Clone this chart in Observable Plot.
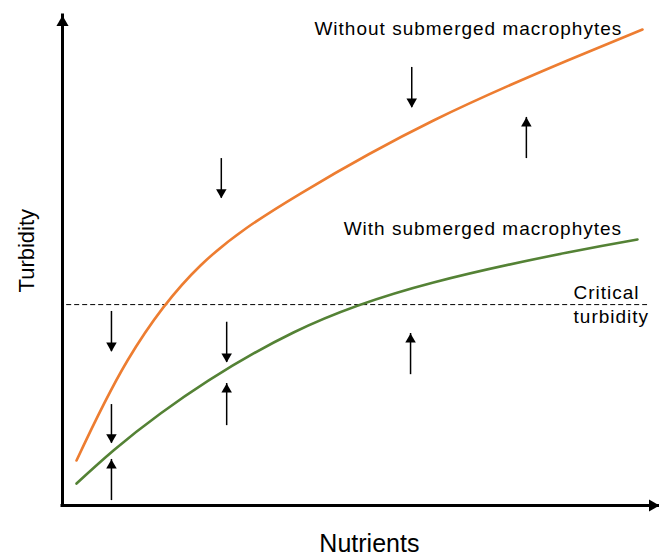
<!DOCTYPE html>
<html><head><meta charset="utf-8">
<script src="https://cdn.jsdelivr.net/npm/d3@7"></script>
<script src="https://cdn.jsdelivr.net/npm/@observablehq/plot@0.6"></script>
<style>
body{margin:0;background:#fff;}
svg{font-family:"Liberation Sans",Arial,sans-serif;}
</style>
</head><body><div id="chart"></div>
<script>
// Curves (abstract units: nutrients 0-100, turbidity 0-100)
const withoutX = [2.35, 10.89, 23.12, 39.87, 62.14, 84.59, 97.15];
const withoutY = [9.18, 29.59, 48.98, 63.67, 78.57, 90.82, 97.14];
const withX = [2.35, 16.42, 38.69, 62.14, 84.59, 96.31];
const withY = [4.49, 18.78, 35.31, 45.51, 51.63, 54.29];
// Critical turbidity level
const criticalLevel = 41.0;
const criticalFrom = 0.7, criticalTo = 98.0;
// Arrows
const downX = [26.6, 58.5, 8.2, 27.5, 8.2];
const downFrom = [70.8, 89.4, 39.6, 37.4, 20.6];
const downTo = [62.7, 81.2, 31.4, 29.2, 12.7];
const upX = [77.7, 58.3, 27.5, 8.2];
const upFrom = [70.8, 26.7, 16.3, 1.0];
const upTo = [79.2, 35.1, 24.9, 9.4];
// Labels
const labels = ["Without submerged macrophytes", "With submerged macrophytes", "Critical", "turbidity"];
const labelX = [42.2, 47.1, 85.6, 85.6];
const labelY = [97.2, 56.4, 43.4, 38.4];
const xTitle = "Nutrients", yTitle = "Turbidity";
const xTitlePos = 51.4, yTitlePos = 52;
const axisMax = 100;

const tbl = (xs, ys) => xs.map((x, i) => ({x, y: ys[i]}));
const downs = downX.map((x, i) => ({x, y1: downFrom[i], y2: downTo[i]}));
const ups = upX.map((x, i) => ({x, y1: upFrom[i], y2: upTo[i]}));
const lab = labels.map((t, i) => ({t, x: labelX[i], y: labelY[i]}));

const chart = Plot.plot({
  width: 659, height: 557,
  marginLeft: 62, marginRight: 0, marginTop: 15, marginBottom: 52,
  x: {domain: [0, axisMax], axis: null},
  y: {domain: [0, axisMax], axis: null},
  marks: [
    Plot.ruleY([criticalLevel], {x1: criticalFrom, x2: criticalTo, stroke: "black", strokeWidth: 1, strokeDasharray: "5,3"}),
    Plot.line(tbl(withoutX, withoutY), {x: "x", y: "y", stroke: "#ED7D31", strokeWidth: 2.6, curve: "natural"}),
    Plot.line(tbl(withX, withY), {x: "x", y: "y", stroke: "#548235", strokeWidth: 2.6, curve: "natural"}),
    Plot.ruleX(downs, {x: "x", y1: "y1", y2: "y2", stroke: "black", strokeWidth: 1.5}),
    Plot.dot(downs, {x: "x", y: "y2", symbol: "triangle", r: 3.9, fill: "black", stroke: null, rotate: 180, dy: -6}),
    Plot.ruleX(ups, {x: "x", y1: "y1", y2: "y2", stroke: "black", strokeWidth: 1.5}),
    Plot.dot(ups, {x: "x", y: "y2", symbol: "triangle", r: 3.9, fill: "black", stroke: null, dy: 6}),
    // axes
    Plot.ruleX([0], {y1: 0, y2: axisMax, stroke: "black", strokeWidth: 3, strokeLinecap: "square"}),
    Plot.ruleY([0], {x1: 0, x2: axisMax, stroke: "black", strokeWidth: 3, strokeLinecap: "square"}),
    Plot.dot([{x: 0, y: axisMax}], {x: "x", y: "y", symbol: "triangle", r: 4.5, fill: "black", stroke: null, dy: 7}),
    Plot.dot([{x: axisMax, y: 0}], {x: "x", y: "y", symbol: "triangle", r: 4.5, fill: "black", stroke: null, rotate: 90, dx: -7}),
    Plot.text(lab, {x: "x", y: "y", text: "t", textAnchor: "start", fontSize: 19, fill: "black"}),
    Plot.text([xTitle], {x: xTitlePos, y: 0, text: d => d, dy: 38.5, fontSize: 25, fill: "black"}),
    Plot.text([yTitle], {x: 0, y: yTitlePos, text: d => d, dx: -36, rotate: -90, fontSize: 22, fill: "black"})
  ]
});
d3.select(chart).selectAll("text")
  .filter(function() { return labels.includes(this.textContent); })
  .style("letter-spacing", "1px");
document.getElementById("chart").append(chart);
</script>
</body></html>
